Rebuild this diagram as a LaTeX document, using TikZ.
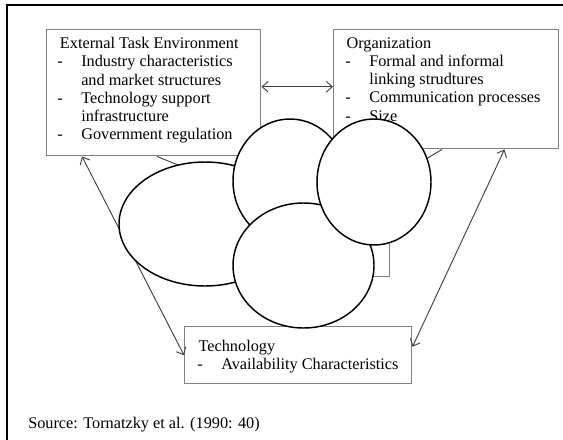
\documentclass[tikz,border=0pt]{standalone}
\usepackage{fontspec}
\setmainfont{Liberation Serif}
\usetikzlibrary{arrows.meta}

\newlength{\itemind}
\setlength{\itemind}{18pt}
\newcommand{\itm}{\makebox[\itemind][l]{-}}
\newcommand{\itmgap}{\hspace*{\itemind}}

\tikzset{
  box/.style={draw=black!50, line width=1.1pt, anchor=north west, inner sep=0pt},
  txt/.style={anchor=north west, align=left, inner sep=0pt, font=\fontsize{12.2pt}{13.7pt}\selectfont},
  conn/.style={draw=black!75, line width=0.7pt, >={Straight Barb[length=4.5pt,width=8pt]}},
  blob/.style={draw, line width=1.1pt, fill=white}
}

\begin{document}
\begin{tikzpicture}[x=0.75pt, y=-0.75pt]
\useasboundingbox (0,0) rectangle (563,439);
\draw[line width=1.5pt] (7,450) -- (7,5) -- (570,5);

% boxes
\node[box, minimum width=160.5pt, minimum height=94.5pt] (ext) at (46,29) {};
\node[box, minimum width=168.75pt, minimum height=89.25pt] (org) at (333,29) {};
\node[box, minimum width=170.25pt, minimum height=42.75pt] (tech) at (184,326) {};
\node[box, minimum width=130.5pt, minimum height=72pt] (dec) at (215,180) {};

\node[txt] (exttxt) at ([shift={(11,8)}]ext.north west) {\hspace*{2pt}External Task Environment\\
  \itm Industry characteristics\\ \itmgap and market structures\\
  \itm Technology support\\ \itmgap infrastructure\\
  \itm Government regulation};
\node[txt] (orgtxt) at ([shift={(12,8)}]org.north west) {\hspace*{1pt}Organization\\
  \itm Formal and informal\\ \itmgap linking strudtures\\
  \itm Communication processes\\
  \itm Size};
\node[txt] (techtxt) at ([shift={(13,14)}]tech.north west) {\hspace*{1pt}Technology\\
  \itm Availability Characteristics};

\node[anchor=base west, inner sep=0pt, font=\fontsize{12.2pt}{13.7pt}\selectfont] (src) at (28,428) {Source: Tornatzky et al. (1990: 40)};

% connectors
\coordinate (m) at ([yshift=4.5pt]ext.east);
\path[conn,<->] (m) -- (m -| org.west);
\path[conn,<->] ([xshift=27pt]ext.south west) -- (tech.west);
\path[conn,<->] ([xshift=-41.25pt]org.south east) -- ([yshift=6.4pt]tech.east);
\path[conn] ([xshift=83.25pt]ext.south west) -- (dec.north west);
\path[conn] ([xshift=81.75pt]org.south west) -- (dec.north east);

% covering blobs
\path[blob] (205,224) ellipse [x radius=86, y radius=62];
\path[blob] (290,181) ellipse [x radius=57, y radius=62];
\path[blob] (303.5,265.5) ellipse [x radius=70.5, y radius=62.5];
\path[blob] (374,182) ellipse [x radius=57, y radius=63];
\end{tikzpicture}
\end{document}
